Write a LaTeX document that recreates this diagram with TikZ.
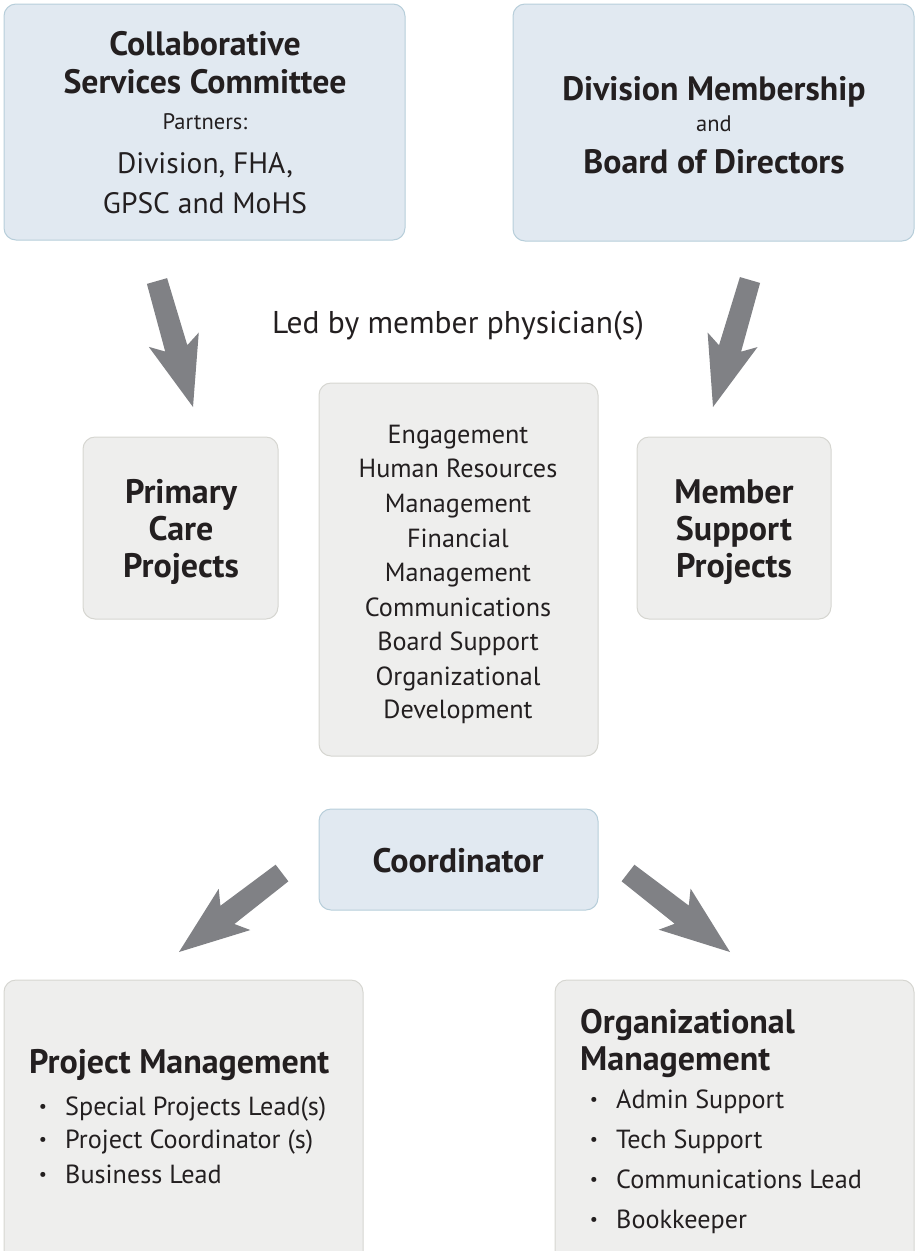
\documentclass[tikz,border=0pt]{standalone}
\usepackage{fontspec}
\setmainfont{PT Sans}
\usetikzlibrary{calc}

\definecolor{boxblue}{HTML}{E1E9F1}
\definecolor{boxblueline}{HTML}{B7CEDA}
\definecolor{boxgray}{HTML}{EEEEED}
\definecolor{boxgrayline}{HTML}{D6D6D1}
\definecolor{arrowgray}{HTML}{808185}
\definecolor{textdark}{HTML}{231F20}

% block arrow from tail coordinate #1 to tip coordinate #2
\newcommand{\blockarrow}[2]{%
  \path ($(#2)!61pt!(#1)$) coordinate (neck) ($(#2)!70pt!(#1)$) coordinate (barb);
  \fill[arrowgray] ($(#1)!10.5pt!90:(#2)$) -- ($(neck)!11.5pt!90:(#2)$)
    -- ($(barb)!26pt!90:(#2)$) -- (#2) -- ($(barb)!26pt!-90:(#2)$)
    -- ($(neck)!11.5pt!-90:(#2)$) -- ($(#1)!10.5pt!-90:(#2)$) -- cycle;
}

\begin{document}
\begin{tikzpicture}[x=1pt,y=-1pt,
  box/.style={rectangle, rounded corners=12pt, line width=1pt, inner sep=0pt},
  bluebox/.style={box, draw=boxblueline, fill=boxblue},
  graybox/.style={box, draw=boxgrayline, fill=boxgray},
  txt/.style={inner sep=0pt, text=textdark, anchor=base},
  big/.style={txt, font=\fontsize{33.8}{40}\selectfont\bfseries},
  mid/.style={txt, font=\fontsize{34}{40}\selectfont\bfseries},
  plain/.style={txt, font=\fontsize{29.5}{36}\selectfont},
  ledby/.style={txt, font=\fontsize{31.5}{36}\selectfont},
  small/.style={txt, font=\fontsize{22.5}{26}\selectfont},
  item/.style={txt, font=\fontsize{26.2}{30}\selectfont},
  dot/.style={txt, font=\fontsize{18}{24}\selectfont}]
\useasboundingbox (0,0) rectangle (916,1251);

% boxes
\node[bluebox, minimum width=401pt, minimum height=236pt] (csc) at (204.5,122) {};
\node[bluebox, minimum width=401pt, minimum height=237pt] (dm) at (713.5,122.5) {};
\node[graybox, minimum width=195pt, minimum height=182pt] (pcp) at (180.5,528) {};
\node[graybox, minimum width=279pt, minimum height=373pt] (mid) at (458.5,569.5) {};
\node[graybox, minimum width=194pt, minimum height=182pt] (msp) at (734,528) {};
\node[bluebox, minimum width=279pt, minimum height=101pt] (coord) at (458.5,859.5) {};
\node[graybox, minimum width=359pt, minimum height=285pt] (pm) at (183.5,1122.5) {};
\node[graybox, minimum width=359pt, minimum height=285pt] (om) at (734.5,1122.5) {};

% top left box
\node[big] (csc1) at (205,55) {Collaborative};
\node[big] (csc2) at (205,93) {Services Committee};
\node[small] (csc3) at (205,129) {Partners:};
\node[plain] (csc4) at (205,173) {Division, FHA,};
\node[plain] (csc5) at (205,213) {GPSC and MoHS};

% top right box
\node[big] (dm1) at (714,100) {Division Membership};
\node[small] (dm2) at (714,131) {and};
\node[big] (dm3) at (714,173) {Board of Directors};

\node[ledby] (led) at (458,333) {Led by member physician(s)};

% middle row
\node[mid] (pcp1) at (181,503) {Primary};
\node[mid] (pcp2) at (181,540) {Care};
\node[mid] (pcp3) at (181,577) {Projects};

\node[mid] (msp1) at (734,503) {Member};
\node[mid] (msp2) at (734,540) {Support};
\node[mid] (msp3) at (734,577) {Projects};

\node[item] (m1) at (458,443) {Engagement};
\node[item] (m2) at (458,477) {Human Resources};
\node[item] (m3) at (458,512) {Management};
\node[item] (m4) at (458,547) {Financial};
\node[item] (m5) at (458,581) {Management};
\node[item] (m6) at (458,616) {Communications};
\node[item] (m7) at (458,650) {Board Support};
\node[item] (m8) at (458,685) {Organizational};
\node[item] (m9) at (458,718) {Development};

\node[mid] (coord1) at (458,872) {Coordinator};

% bottom left box
\node[mid, anchor=base west] (pm0) at (29,1073) {Project Management};
\node[dot] (pm1d) at (43,1112) {•};
\node[item, anchor=base west] (pm1) at (65,1115) {Special Projects Lead(s)};
\node[dot] (pm2d) at (43,1145) {•};
\node[item, anchor=base west] (pm2) at (65,1148) {Project Coordinator (s)};
\node[dot] (pm3d) at (43,1180) {•};
\node[item, anchor=base west] (pm3) at (65,1183) {Business Lead};

% bottom right box
\node[mid, anchor=base west] (om0) at (580,1033) {Organizational};
\node[mid, anchor=base west] (om00) at (580,1070) {Management};
\node[dot] (om1d) at (594,1105) {•};
\node[item, anchor=base west] (om1) at (616,1108) {Admin Support};
\node[dot] (om2d) at (594,1145) {•};
\node[item, anchor=base west] (om2) at (616,1148) {Tech Support};
\node[dot] (om3d) at (594,1185) {•};
\node[item, anchor=base west] (om3) at (616,1188) {Communications Lead};
\node[dot] (om4d) at (594,1225) {•};
\node[item, anchor=base west] (om4) at (616,1228) {Bookkeeper};

% arrows
\coordinate (a1t) at (157,281);
\coordinate (a1h) at (193,407);
\coordinate (a2t) at (750,280);
\coordinate (a2h) at (713,407);
\coordinate (a3t) at (282,873);
\coordinate (a3h) at (179,952);
\coordinate (a4t) at (628,873);
\coordinate (a4h) at (730,952);
\blockarrow{a1t}{a1h}
\blockarrow{a2t}{a2h}
\blockarrow{a3t}{a3h}
\blockarrow{a4t}{a4h}
\end{tikzpicture}
\end{document}
